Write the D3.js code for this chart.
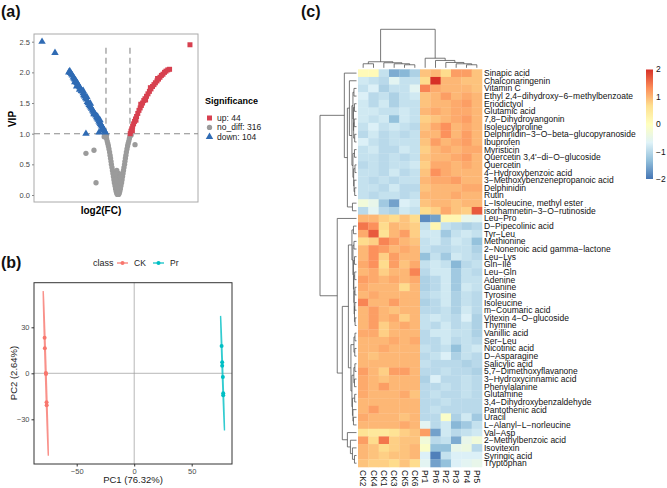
<!DOCTYPE html>
<html><head><meta charset="utf-8">
<script src="https://cdn.jsdelivr.net/npm/d3@7"></script>
<style>body{margin:0;background:#fff}svg{font-family:"Liberation Sans",Arial,sans-serif}</style>
</head><body><svg id="c" width="667" height="488"></svg>
<script>
// ---------------- DATA ----------------
// (a) volcano: [log2FC, VIP]
const volcUp = [[1.02,1.00],[1.08,1.04],[1.15,1.08],[1.22,1.12],[1.30,1.16],[1.38,1.20],[1.46,1.24],[1.55,1.28],[1.65,1.33],[1.75,1.38],[1.85,1.42],[1.95,1.46],[2.05,1.50],[2.15,1.54],[2.25,1.57],[2.38,1.61],[2.50,1.65],[2.62,1.69],[2.75,1.73],[2.88,1.77],[3.00,1.80],[3.12,1.83],[3.25,1.86],[3.38,1.89],[3.50,1.92],[3.62,1.95],[3.75,1.97],[3.88,2.00],[4.00,2.02],[4.15,2.04],[4.30,2.05],[6.00,2.45],[1.20,1.05],[1.50,1.22],[1.90,1.48],[2.30,1.55],[2.70,1.75],[3.30,1.90]];
const volcDown = [[-6.33,2.50],[-5.25,2.32],[-4.10,2.00],[-4.02,2.02],[-3.95,1.99],[-3.88,1.97],[-3.80,1.95],[-3.72,1.92],[-3.65,1.90],[-3.60,1.84],[-3.58,1.88],[-3.50,1.86],[-3.45,1.77],[-3.42,1.83],[-3.35,1.81],[-3.28,1.78],[-3.20,1.76],[-3.20,1.72],[-3.12,1.73],[-3.05,1.70],[-2.98,1.69],[-2.90,1.66],[-2.90,1.70],[-2.85,1.63],[-2.78,1.61],[-2.70,1.58],[-2.62,1.56],[-2.60,1.60],[-2.55,1.52],[-2.48,1.50],[-2.40,1.47],[-2.33,1.45],[-2.30,1.49],[-2.26,1.43],[-2.20,1.41],[-2.12,1.38],[-2.05,1.36],[-2.00,1.32],[-1.98,1.34],[-1.92,1.32],[-1.85,1.30],[-1.78,1.27],[-1.72,1.25],[-1.70,1.28],[-1.65,1.23],[-1.58,1.20],[-1.52,1.18],[-1.50,1.22],[-1.46,1.16],[-1.40,1.14],[-1.34,1.12],[-1.30,1.07],[-1.28,1.10],[-1.22,1.08],[-1.16,1.06],[-1.10,1.04],[-1.05,1.02],[-2.67,1.00],[-1.58,1.02]];
const volcNo = [[-1.05,0.98],[-1.00,0.95],[-0.95,0.92],[-0.90,0.88],[-0.85,0.84],[-0.80,0.80],[-0.75,0.75],[-0.70,0.70],[-0.66,0.65],[-0.62,0.60],[-0.58,0.55],[-0.55,0.50],[-0.50,0.45],[-0.46,0.40],[-0.42,0.35],[-0.38,0.30],[-0.34,0.25],[-0.30,0.20],[-0.25,0.15],[-0.20,0.10],[-0.15,0.06],[-0.10,0.03],[-0.05,0.01],[0.05,0.01],[0.10,0.03],[0.15,0.06],[0.20,0.10],[0.25,0.15],[0.30,0.20],[0.34,0.25],[0.38,0.30],[0.42,0.35],[0.46,0.40],[0.50,0.45],[0.55,0.50],[0.58,0.55],[0.62,0.60],[0.66,0.65],[0.70,0.70],[0.75,0.75],[0.80,0.80],[0.85,0.84],[0.90,0.88],[0.95,0.92],[1.00,0.96],[0.00,0.05],[0.02,0.12],[-0.02,0.18],[0.05,0.25],[-0.05,0.30],[0.10,0.35],[-0.10,0.40],[0.15,0.20],[-0.15,0.25],[0.20,0.30],[-0.20,0.35],[-1.10,1.00],[-0.95,0.98],[-1.15,0.95],[-2.67,0.68],[-2.00,0.73],[-1.83,0.20],[1.42,0.82],[1.10,0.98]];
const volcLegend = ["up: 44","no_diff: 316","down: 104"];
const volcYTicks = [0,0.5,1,1.5,2,2.5];

// (b) PCA scores: [PC1, PC2]
const pcaCK = [[-77.9,23.2],[-77.7,16.3],[-76.8,0.2],[-76.7,-0.5],[-76.2,-18.9],[-76.1,-20.9]];
const pcaPr = [[76.0,17.8],[76.5,7.2],[76.5,5.0],[77.1,-2.4],[77.4,-13.0],[77.4,-14.3]];
const pcaXTicks = [-50,0,50];
const pcaYTicks = [-30,0,30];

// (c) heatmap
const colNames = ["CK2","CK4","CK1","CK3","CK5","CK6","Pr1","Pr6","Pr2","Pr3","Pr4","Pr5"];
const rowNames = ["Sinapic acid","Chalconaringenin","Vitamin C","Ethyl 2,4-dihydroxy-6-methylbenzoate","Eriodictyol","Glutamic acid","7,8-Dihydroyangonin","Isoleucylproline","Delphinidin-3-O-beta-glucopyranoside","Ibuprofen","Myristicin","Quercetin 3,4'-di-O-glucoside","Quercetin","4-Hydroxybenzoic acid","3-Methoxybenzenepropanoic acid","Delphinidin","Rutin","L-Isoleucine, methyl ester","isorhamnetin-3-O-rutinoside","Leu-Pro","D-Pipecolinic acid","Tyr-Leu","Methionine","2-Nonenoic acid gamma-lactone","Leu-Lys","Gln-Ile","Leu-Gln","Adenine","Guanine","Tyrosine","Isoleucine","m-Coumaric acid","Vitexin 4-O-glucoside","Thymine","Vanillic acid","Ser-Leu","Nicotinic acid","D-Asparagine","Salicylic acid","5,7-Dimethoxyflavanone","3-Hydroxycinnamic acid","Phenylalanine","Glutamine","3,4-Dihydroxybenzaldehyde","Pantothenic acid","Uracil","L-Alanyl-L-norleucine","Val-Asp","2-Methylbenzoic acid","Isovitexin","Syringic acid","Tryptophan"];
const heatValues = [
[0.1,0.1,-0.9,-1.5,-1.4,-1.1, 0.9,1.0,0.7,1.2,1.2,0.9],
[-0.8,-0.9,-1.0,-0.6,-0.9,-0.9, 0.7,2.0,1.0,1.0,0.9,0.9],
[-0.9,-0.7,-1.1,-0.9,-0.9,-0.6, 1.4,1.1,1.0,1.0,1.0,0.9],
[-0.7,-1.0,-0.9,-1.1,-0.9,-0.8, 0.9,1.0,1.2,1.0,1.1,1.0],
[-0.8,-1.0,-0.8,-1.1,-0.9,-0.9, 0.9,1.0,1.0,1.1,1.2,1.0],
[-0.8,-0.8,-0.9,-0.9,-0.8,-0.9, 1.0,1.1,1.0,1.1,1.1,1.0],
[-0.8,-0.9,-0.8,-1.3,-0.8,-0.9, 0.8,0.9,1.0,1.1,1.2,1.0],
[-0.9,-0.7,-0.9,-0.8,-0.9,-1.0, 0.9,1.1,1.3,1.0,1.1,1.0],
[-1.0,-0.8,-1.0,-0.9,-1.0,-0.9, 1.0,1.0,1.3,1.0,1.2,1.0],
[-0.7,-0.9,-1.0,-0.9,-0.9,-0.9, 0.9,1.2,1.0,1.1,1.2,1.0],
[-0.9,-0.8,-1.0,-1.0,-0.8,-0.9, 0.8,1.0,1.1,1.0,1.1,1.1],
[-0.9,-0.9,-1.0,-0.9,-1.0,-0.9, 0.9,1.0,1.0,1.1,1.2,1.0],
[-1.0,-0.9,-1.0,-0.9,-0.9,-0.8, 0.8,1.1,1.1,1.0,1.1,1.0],
[-0.9,-0.9,-1.0,-0.8,-1.0,-0.9, 0.9,1.3,1.1,1.0,1.0,1.0],
[-0.9,-1.0,-0.9,-1.0,-0.9,-0.9, 1.0,1.1,1.1,1.2,1.0,1.0],
[-0.9,-0.9,-1.0,-0.8,-1.0,-1.0, 0.9,1.0,1.0,1.0,1.1,1.1],
[-0.9,-1.0,-0.9,-0.9,-1.0,-0.9, 1.0,1.0,1.0,1.1,1.0,1.0],
[-0.3,-0.5,-1.2,-1.6,-0.7,-0.8, 0.9,1.0,1.0,0.9,1.0,1.0],
[-1.0,-0.6,-1.0,-1.1,-0.8,-0.9, 0.7,0.8,1.1,0.9,0.8,1.7],
[1.0,1.0,0.8,0.7,0.9,0.7, -1.8,-1.6,0.2,0.2,-0.5,-0.6],
[1.5,1.3,0.7,1.0,0.9,0.8, -0.9,0.2,-0.9,-1.0,-1.1,-1.0],
[1.1,1.7,0.6,1.0,1.2,0.8, -0.8,-0.8,-1.2,-0.9,-0.8,-0.9],
[0.7,0.8,1.4,1.2,1.0,0.9, -0.9,-0.8,-1.0,-0.8,-0.9,-1.3],
[1.0,1.3,1.2,1.0,1.1,1.0, -0.9,-1.0,-1.0,-0.9,-0.9,-1.1],
[1.0,1.3,0.8,1.2,1.0,1.0, -1.3,-0.9,-1.2,-0.8,-0.9,-1.0],
[1.1,1.3,0.7,1.2,0.9,1.1, -0.9,-0.8,-0.9,-1.4,-1.0,-0.9],
[1.0,1.1,0.8,1.0,1.0,1.4, -1.0,-0.8,-0.8,-1.2,-0.9,-1.0],
[1.2,1.1,1.0,1.1,1.0,1.1, -1.1,-1.0,-0.8,-1.2,-0.9,-0.9],
[1.1,1.0,1.0,1.0,0.7,1.0, -1.1,-1.0,-0.8,-1.2,-0.8,-0.9],
[1.0,1.1,1.0,1.0,1.0,1.0, -1.0,-0.9,-0.8,-1.1,-0.9,-1.0],
[1.4,1.0,1.0,1.2,1.0,1.0, -1.1,-1.0,-0.8,-1.1,-0.9,-1.0],
[1.0,1.2,1.0,0.9,1.0,1.0, -1.0,-1.0,-0.9,-1.1,-0.8,-1.0],
[1.0,1.2,1.0,1.1,0.8,1.0, -0.9,-0.8,-0.9,-1.0,-0.7,-1.1],
[1.0,1.2,0.8,1.0,1.1,1.0, -0.9,-1.0,-0.8,-1.0,-0.9,-1.1],
[1.1,1.1,0.8,1.0,1.0,1.0, -1.0,-0.8,-0.8,-0.9,-0.9,-1.1],
[1.0,1.0,1.0,1.1,1.0,1.1, -1.0,-1.0,-0.8,-1.0,-0.9,-1.0],
[1.0,1.0,1.1,1.0,1.0,1.0, -0.9,-1.0,-0.9,-1.3,-0.9,-0.8],
[1.0,0.9,1.0,1.0,1.0,1.0, -1.0,-0.9,-0.7,-1.1,-0.9,-1.0],
[1.0,1.0,1.0,1.0,1.0,1.0, -0.9,-1.0,-1.0,-1.0,-1.1,-1.0],
[1.2,1.0,0.8,1.2,1.2,1.0, -1.0,-1.0,-0.9,-1.0,-1.0,-1.1],
[1.1,1.0,0.9,1.0,1.0,1.0, -1.1,-0.7,-1.0,-1.0,-0.9,-1.0],
[1.1,1.0,1.2,1.0,1.0,1.0, -1.0,-1.0,-0.9,-1.0,-0.9,-1.0],
[1.1,1.0,1.0,1.0,1.1,0.9, -1.0,-0.9,-1.0,-1.0,-0.9,-1.0],
[1.0,1.0,1.0,1.0,1.0,1.0, -1.0,-1.0,-0.9,-1.0,-1.0,-1.0],
[1.0,1.2,1.0,1.0,1.0,1.0, -1.0,-0.9,-1.0,-1.0,-1.0,-1.0],
[1.1,1.0,1.0,1.0,0.9,1.0, -1.0,-1.0,-0.1,-1.1,-0.8,-1.2],
[1.0,1.0,1.0,1.0,1.1,1.0, -0.6,-1.0,-0.8,-1.4,-1.2,-0.9],
[0.6,0.5,0.5,0.6,0.8,0.9, 1.2,-1.6,-0.8,-1.0,-0.9,-0.8],
[1.2,0.7,1.5,0.8,0.9,0.9, -0.3,-1.0,-0.9,-1.5,-0.5,-0.3],
[1.0,0.9,0.7,0.8,0.9,1.0, -0.1,-1.3,-1.3,-0.5,-0.4,-1.0],
[1.0,0.9,0.8,0.9,0.9,1.0, -0.7,-1.9,-0.9,-0.7,-0.7,-0.7],
[0.9,0.8,0.8,0.7,0.9,0.7, -0.6,-1.6,-1.3,-0.7,-0.6,-0.5]
];
const legendTicks = [2,1,0,-1,-2];
// dendrograms: N(mergeHeight, childA, childB); leaves = row index / column name
const N = (h, a, b) => ({h, children:[a, b]});
const rowTree = N(36,
  N(12, 0, N(9, N(7, 1, N(4.5,
      N(3.5, N(2.5,2,3), N(3, N(2,4,5), N(2.8, N(2.2,6,7), N(1.8,8,9)))),
      N(3.5, N(2,10,11), N(2.8, N(1.5,12,13), N(2.4,14, N(1.8,15,16)))))),
    N(4,17,18))),
  N(19, 19, N(14,
      N(8,
        N(4.5, N(3,20,21), N(3.5, N(2.5,22,23), N(3, N(2,24,25), N(2.6, N(1.8,26,27), N(2.3, N(1.5,28,29), N(2, N(1.6,30,31), N(1.4,32,33))))))),
        N(5.5, N(2.5, N(1.5,34,35), N(1.7,36,37)), N(4.5, N(2.6, N(1.6,38,39), N(2,40,41)), N(4, N(1.8,42,43), N(3.5,44, N(3,45,46)))))),
      N(9, 47, N(6, 48, N(4, 49, N(2, 50, 51)))))));
const colTree = N(38.2,
  N(6, N(4,"CK2","CK4"), N(5,"CK1", N(4,"CK3", N(3,"CK5","CK6")))),
  N(9.5,"Pr1", N(7.3,"Pr6", N(5.3,"Pr2", N(4,"Pr3", N(3,"Pr4","Pr5"))))));

// ---------------- DRAW ----------------
const svg = d3.select("#c");
const FONT = '"Liberation Sans",Arial,sans-serif';
const minus = s => String(s).replace(/-/g,"\u2212");

// panel labels
[["(a)",1,17],["(b)",1,268],["(c)",301,17]].forEach(([t,x,y]) =>
  svg.append("text").attr("x",x).attr("y",y).attr("font-size",16).attr("font-weight","bold").attr("fill","#111").text(t));

// ===== (a) volcano =====
const vx = d3.scaleLinear().domain([-7,6.67]).range([34,198]);
const vy = d3.scaleLinear().domain([0,2.5]).range([195,41.7]);
const ga = svg.append("g");
ga.append("rect").attr("x",34).attr("y",34).attr("width",164).attr("height",168).attr("fill","none").attr("stroke","#aaa").attr("stroke-width",1);
const yAx = ga.append("g").attr("transform","translate(34,0)").call(d3.axisLeft(vy).tickValues(volcYTicks).tickFormat(d3.format(".1f")).tickSize(2).tickPadding(2));
yAx.select(".domain").remove();
yAx.selectAll("line").attr("stroke","#888");
yAx.selectAll("text").attr("font-size",7.5).attr("fill","#444").attr("font-family",FONT);
// dashed thresholds
ga.append("line").attr("x1",34).attr("x2",198).attr("y1",vy(1)).attr("y2",vy(1)).attr("stroke","#8a8a8a").attr("stroke-dasharray","6,4").attr("stroke-width",1.1);
[-1,1].forEach(v => ga.append("line").attr("x1",vx(v)).attr("x2",vx(v)).attr("y1",vy(1)).attr("y2",vy(2.45)).attr("stroke","#8a8a8a").attr("stroke-dasharray","6,4").attr("stroke-width",1.1));
const cGray="#9b9b9b", cRed="#D7404F", cBlue="#2F6BB4";
const symCircle = d3.symbol().type(d3.symbolCircle).size(22);
const symSquare = d3.symbol().type(d3.symbolSquare).size(25);
const symTri = d3.symbol().type(d3.symbolTriangle).size(24);
ga.selectAll(".pn").data(volcNo).join("path").attr("d",symCircle).attr("fill",cGray).attr("transform",d=>`translate(${vx(d[0])},${vy(d[1])})`);
ga.selectAll(".pu").data(volcUp).join("path").attr("d",symSquare).attr("fill",cRed).attr("transform",d=>`translate(${vx(d[0])},${vy(d[1])})`);
ga.selectAll(".pd").data(volcDown).join("path").attr("d",symTri).attr("fill",cBlue).attr("transform",d=>`translate(${vx(d[0])},${vy(d[1])})`);
ga.append("text").attr("transform","translate(16,119) rotate(-90)").attr("text-anchor","middle").attr("font-size",10).attr("font-weight","bold").text("VIP");
ga.append("text").attr("x",101).attr("y",214).attr("text-anchor","middle").attr("font-size",10).attr("font-weight","bold").text("log2(FC)");
// legend
ga.append("text").attr("x",205).attr("y",104).attr("font-size",9).attr("font-weight","bold").text("Significance");
const legSyms=[symSquare,symCircle,symTri], legCols=[cRed,cGray,cBlue];
volcLegend.forEach((t,i)=>{
  const y = 118 + i*9.4;
  ga.append("path").attr("d",legSyms[i]).attr("fill",legCols[i]).attr("transform",`translate(209.5,${y})`);
  ga.append("text").attr("x",217).attr("y",y).attr("dy","0.35em").attr("font-size",8.5).attr("fill","#222").text(t);
});

// ===== (b) PCA =====
const px = d3.scaleLinear().domain([-50,50]).range([76.7,191.7]);
const py = d3.scaleLinear().domain([-30,30]).range([419.3,327.3]);
const gb = svg.append("g");
const bx0=34,bx1=232,by0=282.7,by1=464;
gb.append("line").attr("x1",px(0)).attr("x2",px(0)).attr("y1",by0).attr("y2",by1).attr("stroke","#9a9a9a").attr("stroke-width",0.7);
gb.append("line").attr("x1",bx0).attr("x2",bx1).attr("y1",py(0)).attr("y2",py(0)).attr("stroke","#9a9a9a").attr("stroke-width",0.7);
gb.append("rect").attr("x",bx0).attr("y",by0).attr("width",bx1-bx0).attr("height",by1-by0).attr("fill","none").attr("stroke","#333").attr("stroke-width",1);
const pxAx = gb.append("g").attr("transform",`translate(0,${by1})`).call(d3.axisBottom(px).tickValues(pcaXTicks).tickSize(2.5).tickPadding(2));
pxAx.select(".domain").remove();
pxAx.selectAll("line").attr("stroke","#333");
pxAx.selectAll("text").attr("font-size",7.5).attr("fill","#4d4d4d").attr("font-family",FONT);
const pyAx = gb.append("g").attr("transform",`translate(${bx0},0)`).call(d3.axisLeft(py).tickValues(pcaYTicks).tickSize(2.5).tickPadding(2));
pyAx.select(".domain").remove();
pyAx.selectAll("line").attr("stroke","#333");
pyAx.selectAll("text").attr("font-size",7.5).attr("fill","#4d4d4d").attr("font-family",FONT);
function ellipse(pts,k){
  const n=pts.length, mx=d3.mean(pts,d=>d[0]), my=d3.mean(pts,d=>d[1]);
  let sxx=0,syy=0,sxy=0;
  pts.forEach(([x,y])=>{sxx+=(x-mx)**2;syy+=(y-my)**2;sxy+=(x-mx)*(y-my);});
  sxx/=n-1;syy/=n-1;sxy/=n-1;
  const a=Math.sqrt(sxx), b=sxy/a, c=Math.sqrt(Math.max(0,syy-b*b));
  return d3.range(0,121).map(i=>{const t=2*Math.PI*i/120,u=Math.cos(t),v=Math.sin(t);return [mx+k*a*u, my+k*(b*u+c*v)];});
}
const line = d3.line().x(d=>px(d[0])).y(d=>py(d[1]));
[[pcaCK,"#F8766D"],[pcaPr,"#00BFC4"]].forEach(([pts,col])=>{
  gb.append("path").attr("d",line(ellipse(pts,3.0))).attr("fill","none").attr("stroke",col).attr("stroke-opacity",0.8).attr("stroke-width",1.3);
  gb.selectAll(null).data(pts).join("circle").attr("cx",d=>px(d[0])).attr("cy",d=>py(d[1])).attr("r",2).attr("fill",col);
});
gb.append("text").attr("x",133).attr("y",483).attr("text-anchor","middle").attr("font-size",9.5).attr("fill","#222").text("PC1 (76.32%)");
gb.append("text").attr("transform","translate(17,373) rotate(-90)").attr("text-anchor","middle").attr("font-size",9.5).attr("fill","#222").text("PC2 (2.64%)");
gb.append("text").attr("x",93).attr("y",266).attr("font-size",9).attr("fill","#222").text("class");
[["CK","#F8766D",117],["Pr","#00BFC4",153]].forEach(([t,col,x])=>{
  gb.append("line").attr("x1",x).attr("x2",x+11).attr("y1",263).attr("y2",263).attr("stroke",col).attr("stroke-width",1.2);
  gb.append("circle").attr("cx",x+5.5).attr("cy",263).attr("r",2).attr("fill",col);
  gb.append("text").attr("x",x+17).attr("y",263).attr("dy","0.35em").attr("font-size",8.5).attr("fill","#222").text(t);
});

// ===== (c) heatmap =====
const gc = svg.append("g");
const hx = d3.scaleBand().domain(colNames).range([358,482]);
const hy = d3.scaleBand().domain(d3.range(rowNames.length)).range([69.3,467]);
const color = d3.scaleLinear().domain([-2,-1.333,-0.667,0,0.667,1.333,2])
  .range(["#4575B4","#91BFDB","#E0F3F8","#FFFFBF","#FEE090","#FC8D59","#D73027"]).clamp(true);
heatValues.forEach((row,i)=>row.forEach((v,j)=>{
  gc.append("rect").attr("x",hx(colNames[j])).attr("y",hy(i)).attr("width",hx.bandwidth()+0.3).attr("height",hy.bandwidth()+0.3).attr("fill",color(v));
}));
rowNames.forEach((t,i)=>gc.append("text").attr("x",484).attr("y",hy(i)+hy.bandwidth()/2).attr("dy","0.35em").attr("font-size",8.5).attr("fill","#111").text(minus(t)));
colNames.forEach(t=>gc.append("text").attr("transform",`translate(${hx(t)+hx.bandwidth()/2},470) rotate(90)`).attr("dy","0.35em").attr("font-size",8.5).attr("fill","#111").text(t));
// dendrograms
function layout(node, pos){
  if (typeof node !== "object") return {p:pos(node), h:0};
  const k=node.children.map(c=>layout(c,pos));
  return {p:(k[0].p+k[1].p)/2, h:node.h, k};
}
function drawTree(t, xy){
  if(!t.k) return;
  const segs=[];
  segs.push([xy(t.k[0].p,t.h), xy(t.k[1].p,t.h)]);
  t.k.forEach(c=>{ segs.push([xy(c.p,c.h), xy(c.p,t.h)]); drawTree(c,xy); });
  segs.forEach(([a,b])=>gc.append("line").attr("x1",a[0]).attr("y1",a[1]).attr("x2",b[0]).attr("y2",b[1]).attr("stroke","#555").attr("stroke-width",0.8));
}
const rowH = d3.scaleLinear().domain([0,36]).range([356.5,320]);
const colH = d3.scaleLinear().domain([0,38.2]).range([67.8,29.3]);
drawTree(layout(rowTree, i=>hy(i)+hy.bandwidth()/2), (p,h)=>[rowH(h),p]);
drawTree(layout(colTree, n=>hx(n)+hx.bandwidth()/2), (p,h)=>[p,colH(h)]);
// color legend
const ly = d3.scaleLinear().domain([-2,2]).range([179,69.5]);
const grad = svg.append("defs").append("linearGradient").attr("id","lg").attr("x1",0).attr("y1",1).attr("x2",0).attr("y2",0);
color.domain().forEach((d,i)=>grad.append("stop").attr("offset",(d+2)/4).attr("stop-color",color.range()[i]));
gc.append("rect").attr("x",646).attr("y",ly(2)).attr("width",7).attr("height",ly(-2)-ly(2)).attr("fill","url(#lg)");
legendTicks.forEach(v=>gc.append("text").attr("x",656).attr("y",ly(v)).attr("dy","0.35em").attr("font-size",8.5).attr("fill","#111").text(minus(v)));
</script></body></html>
